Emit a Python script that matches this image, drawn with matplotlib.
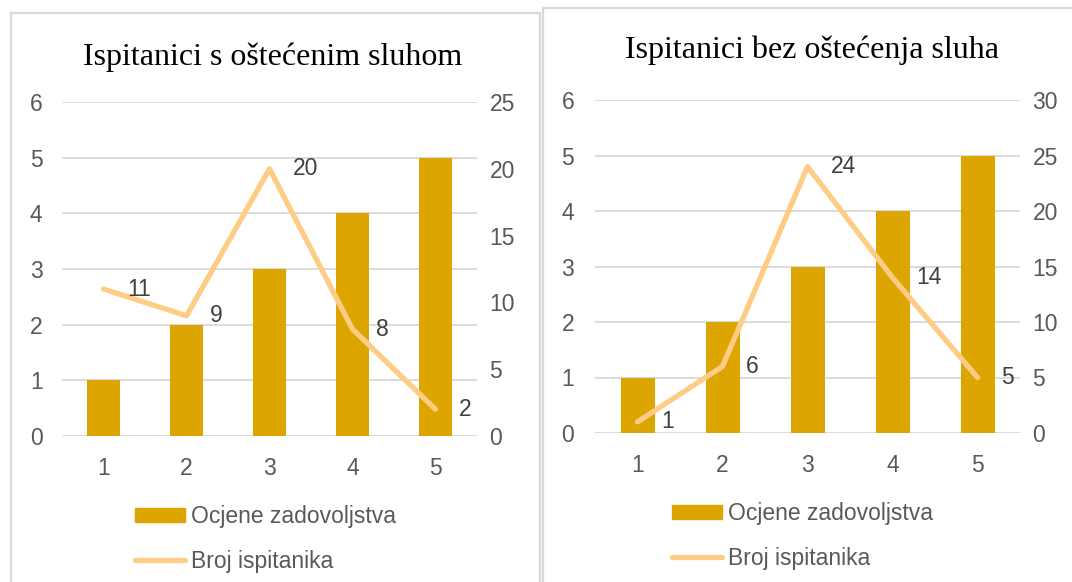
import numpy as np
import matplotlib
matplotlib.use('Agg')
import matplotlib.pyplot as plt
from matplotlib.patches import Patch
from matplotlib.lines import Line2D

# ratings 1..5 on the x axis
kategorije = [1, 2, 3, 4, 5]
ocjene = [1, 2, 3, 4, 5]

# number of respondents per rating
broj_osteceni = [11, 9, 20, 8, 2]
broj_bez = [1, 6, 24, 14, 5]

naslovi = ['Ispitanici s oštećenim sluhom', 'Ispitanici bez oštećenja sluha']
legenda = ['Ocjene zadovoljstva', 'Broj ispitanika']

W, H = 1072, 582
BAR = '#DDA500'
LINE = '#FFCC85'
GRID = '#D9D9D9'
TXT = '#595959'
LBL = '#404040'
FS = 16.5

plt.rcParams['font.family'] = ['Liberation Sans', 'DejaVu Sans']

fig = plt.figure(figsize=(W / 100, H / 100), dpi=100)


def px_box(x0, y0, x1, y1):
    # pixel box (top-left origin) -> figure fraction rect
    return [x0 / W, 1 - y1 / H, (x1 - x0) / W, (y1 - y0) / H]


def okvir(x0, y0, x1):
    # panel border: left, top and right edges (bottom runs off the image)
    kw = dict(color=GRID, lw=1.6, transform=fig.transFigure)
    fig.add_artist(Line2D([x0 / W, x0 / W], [1 - y0 / H, 0], **kw))
    fig.add_artist(Line2D([x0 / W, x1 / W], [1 - y0 / H, 1 - y0 / H], **kw))
    if x1 < W:
        fig.add_artist(Line2D([x1 / W, x1 / W], [1 - y0 / H, 0], **kw))


def panel(box, broj, ymax2, naslov, naslov_xy, leg_xy, lpad, rpad):
    ax = fig.add_axes(px_box(*box))
    ax.bar(kategorije, ocjene, width=0.4, color=BAR, zorder=2)
    ax.set_xlim(0.5, 5.5)
    ax.set_ylim(0, 6)
    ax.set_yticks(range(0, 7))
    ax.set_xticks(kategorije)
    ax.grid(axis='y', color=GRID, lw=1.3, zorder=0)
    ax.set_axisbelow(True)
    for s in ax.spines.values():
        s.set_visible(False)
    ax.tick_params(axis='both', length=0, labelsize=FS, colors=TXT)
    ax.tick_params(axis='y', pad=lpad)
    ax.tick_params(axis='x', pad=15)

    ax2 = ax.twinx()
    ax2.plot(kategorije, broj, color=LINE, lw=3.8, solid_capstyle='round',
             solid_joinstyle='round', zorder=3)
    ax2.set_ylim(0, ymax2)
    ax2.set_yticks(np.arange(0, ymax2 + 1, 5))
    for s in ax2.spines.values():
        s.set_visible(False)
    ax2.tick_params(axis='y', length=0, labelsize=FS, colors=TXT, pad=rpad)
    for x, v in zip(kategorije, broj):
        ax2.annotate(str(v), (x, v), xytext=(17, 0), textcoords='offset points',
                     ha='left', va='center', fontsize=FS, color=LBL)

    fig.text(naslov_xy[0] / W, 1 - naslov_xy[1] / H, naslov, ha='center',
             va='center', fontsize=23, family='Liberation Serif', color='black')

    handles = [Patch(facecolor=BAR, edgecolor=BAR),
               Line2D([], [], color=LINE, lw=3.8, solid_capstyle='round')]
    fig.legend(handles, legenda, loc='upper left',
               bbox_to_anchor=(leg_xy[0] / W, 1 - leg_xy[1] / H),
               frameon=False, fontsize=FS, labelcolor=TXT,
               handlelength=2.2, handleheight=0.6, handletextpad=0.25,
               labelspacing=0.95, borderaxespad=0, borderpad=0)
    return ax


okvir(11, 13, 540)
okvir(543, 8, W + 10)

panel((62, 102, 477, 436), broj_osteceni, 25, naslovi[0], (273, 57),
      (135, 505), 14, 9)
panel((595, 100, 1020, 433), broj_bez, 30, naslovi[1], (812, 50),
      (672, 502), 15, 9)

fig.savefig('out.png', dpi=100)
